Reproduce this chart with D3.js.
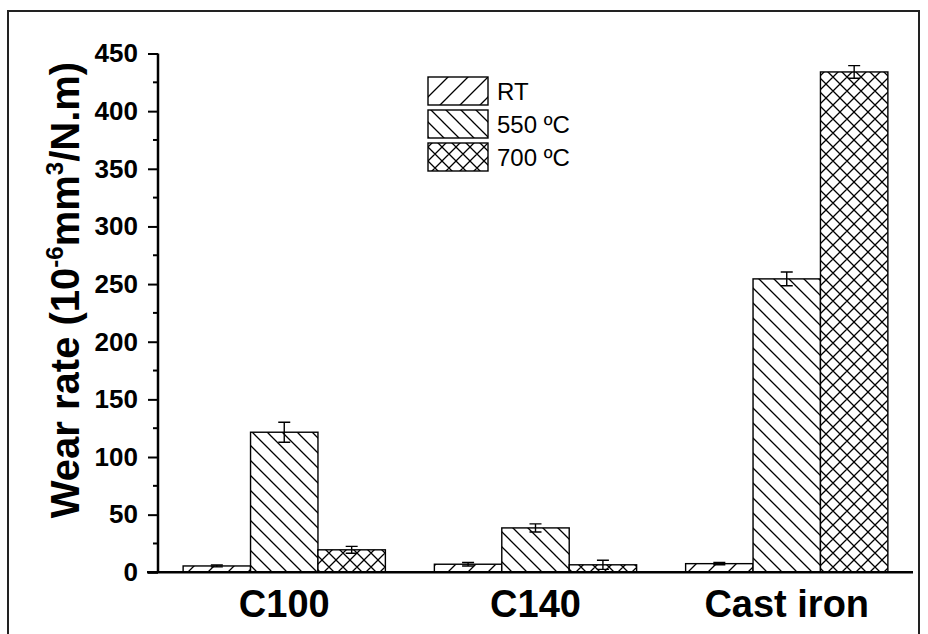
<!DOCTYPE html>
<html>
<head>
<meta charset="utf-8">
<script src="https://cdn.jsdelivr.net/npm/d3@7"></script>
<style>
  body { margin: 0; background: #fff; }
  svg { font-family: Arial, "Liberation Sans", sans-serif; }
</style>
</head>
<body>
<svg id="chart" width="928" height="634"></svg>
<script>
const categories = ['C100', 'C140', 'Cast iron'];
const series = ['RT', '550 ºC', '700 ºC'];
const valuesRT = [5.5, 7, 7.5];
const values550 = [121.5, 38.5, 254.5];
const values700 = [19.5, 6.5, 434];
const errRT = [0.8, 1.5, 1];
const err550 = [8.7, 3.5, 6];
const err700 = [3, 4, 5.5];
const yTicks = [0, 50, 100, 150, 200, 250, 300, 350, 400, 450];

const rows = [];
[valuesRT, values550, values700].forEach((vals, si) => {
    const errs = [errRT, err550, err700][si];
    vals.forEach((v, ci) => rows.push({ cat: categories[ci], s: si, v: v, e: errs[ci] }));
});

const svg = d3.select('#chart');

// frame round the whole figure
svg.append('rect')
    .attr('x', 8).attr('y', 11).attr('width', 911).attr('height', 640)
    .attr('fill', 'none').attr('stroke', '#222').attr('stroke-width', 2);

// hatch patterns
const defs = svg.append('defs');
function hatch(id, s, kinds) {
    const p = defs.append('pattern')
        .attr('id', id)
        .attr('patternUnits', 'userSpaceOnUse')
        .attr('width', s).attr('height', s);
    p.append('rect').attr('width', s).attr('height', s).attr('fill', '#fff');
    let d = '';
    if (kinds.includes('/'))
        d += `M0,${s}L${s},0M${-s/2},${s/2}L${s/2},${-s/2}M${s/2},${1.5*s}L${1.5*s},${s/2}`;
    if (kinds.includes('\\'))
        d += `M0,0L${s},${s}M${-s/2},${s/2}L${s/2},${1.5*s}M${s/2},${-s/2}L${1.5*s},${s/2}`;
    p.append('path').attr('d', d).attr('stroke', '#000').attr('stroke-width', 1.3).attr('fill', 'none');
}
hatch('pRT', 20, ['/']);
hatch('p550', 15, ['\\']);
hatch('p700', 14, ['/', '\\']);
const fills = ['url(#pRT)', 'url(#p550)', 'url(#p700)'];

const x0 = d3.scaleBand().domain(categories).range([158, 913]).paddingInner(0.195).paddingOuter(0.1);
const x1 = d3.scaleBand().domain([0, 1, 2]).range([0, x0.bandwidth()]);
const y = d3.scaleLinear().domain([0, 450]).range([572.3, 53.5]);

// bars
svg.append('g').selectAll('rect')
    .data(rows)
    .join('rect')
    .attr('x', d => x0(d.cat) + x1(d.s))
    .attr('y', d => y(d.v))
    .attr('width', x1.bandwidth())
    .attr('height', d => y(0) - y(d.v))
    .attr('fill', d => fills[d.s])
    .attr('stroke', '#000')
    .attr('stroke-width', 1.4);

// error bars
const eg = svg.append('g').attr('stroke', '#000').attr('stroke-width', 1.4).attr('fill', 'none');
rows.forEach(d => {
    const cx = x0(d.cat) + x1(d.s) + x1.bandwidth() / 2;
    const t = y(d.v + d.e), b = y(d.v - d.e);
    eg.append('path').attr('d', `M${cx},${t}V${b}M${cx - 6},${t}H${cx + 6}M${cx - 6},${b}H${cx + 6}`);
});

// y axis
const yAxis = svg.append('g')
    .attr('transform', 'translate(158,0)')
    .call(d3.axisLeft(y).tickValues(yTicks).tickSize(10).tickPadding(10));
yAxis.select('.domain').attr('stroke-width', 2.5).attr('d', `M0,${y(0)}V${y(450)}`);
yAxis.selectAll('.tick line').attr('stroke-width', 2);
yAxis.selectAll('.tick text')
    .attr('font-size', 26).attr('font-weight', 'bold')
    .attr('font-family', 'Arial, "Liberation Sans", sans-serif').attr('fill', '#000');
svg.append('g').selectAll('line')
    .data(yTicks.slice(0, -1).map(t => t + 25))
    .join('line')
    .attr('x1', 153).attr('x2', 158)
    .attr('y1', d => y(d)).attr('y2', d => y(d))
    .attr('stroke', '#000').attr('stroke-width', 2);

// x axis
svg.append('line')
    .attr('x1', 147).attr('x2', 913).attr('y1', y(0)).attr('y2', y(0))
    .attr('stroke', '#000').attr('stroke-width', 2.5);
svg.append('g').selectAll('text')
    .data(categories)
    .join('text')
    .attr('x', d => x0(d) + x0.bandwidth() / 2)
    .attr('y', 617)
    .attr('text-anchor', 'middle')
    .attr('font-size', 38).attr('font-weight', 'bold')
    .text(d => d);

// y title
const title = svg.append('text')
    .attr('transform', 'translate(79,290) rotate(-90)')
    .attr('text-anchor', 'middle')
    .attr('font-size', 40).attr('font-weight', 'bold');
title.append('tspan').text('Wear rate (10');
title.append('tspan').attr('font-size', 24).attr('dy', -16).text('-6');
title.append('tspan').attr('dy', 16).text('mm');
title.append('tspan').attr('font-size', 24).attr('dy', -16).text('3');
title.append('tspan').attr('dy', 16).text('/N.m)');

// legend
const lg = svg.append('g').attr('transform', 'translate(428,77)');
series.forEach((s, i) => {
    lg.append('rect')
        .attr('x', 0).attr('y', i * 33).attr('width', 60).attr('height', 28)
        .attr('fill', fills[i]).attr('stroke', '#000').attr('stroke-width', 1.4);
    lg.append('text')
        .attr('x', 69).attr('y', i * 33 + 23)
        .attr('font-size', 24)
        .text(s);
});
</script>
</body>
</html>
